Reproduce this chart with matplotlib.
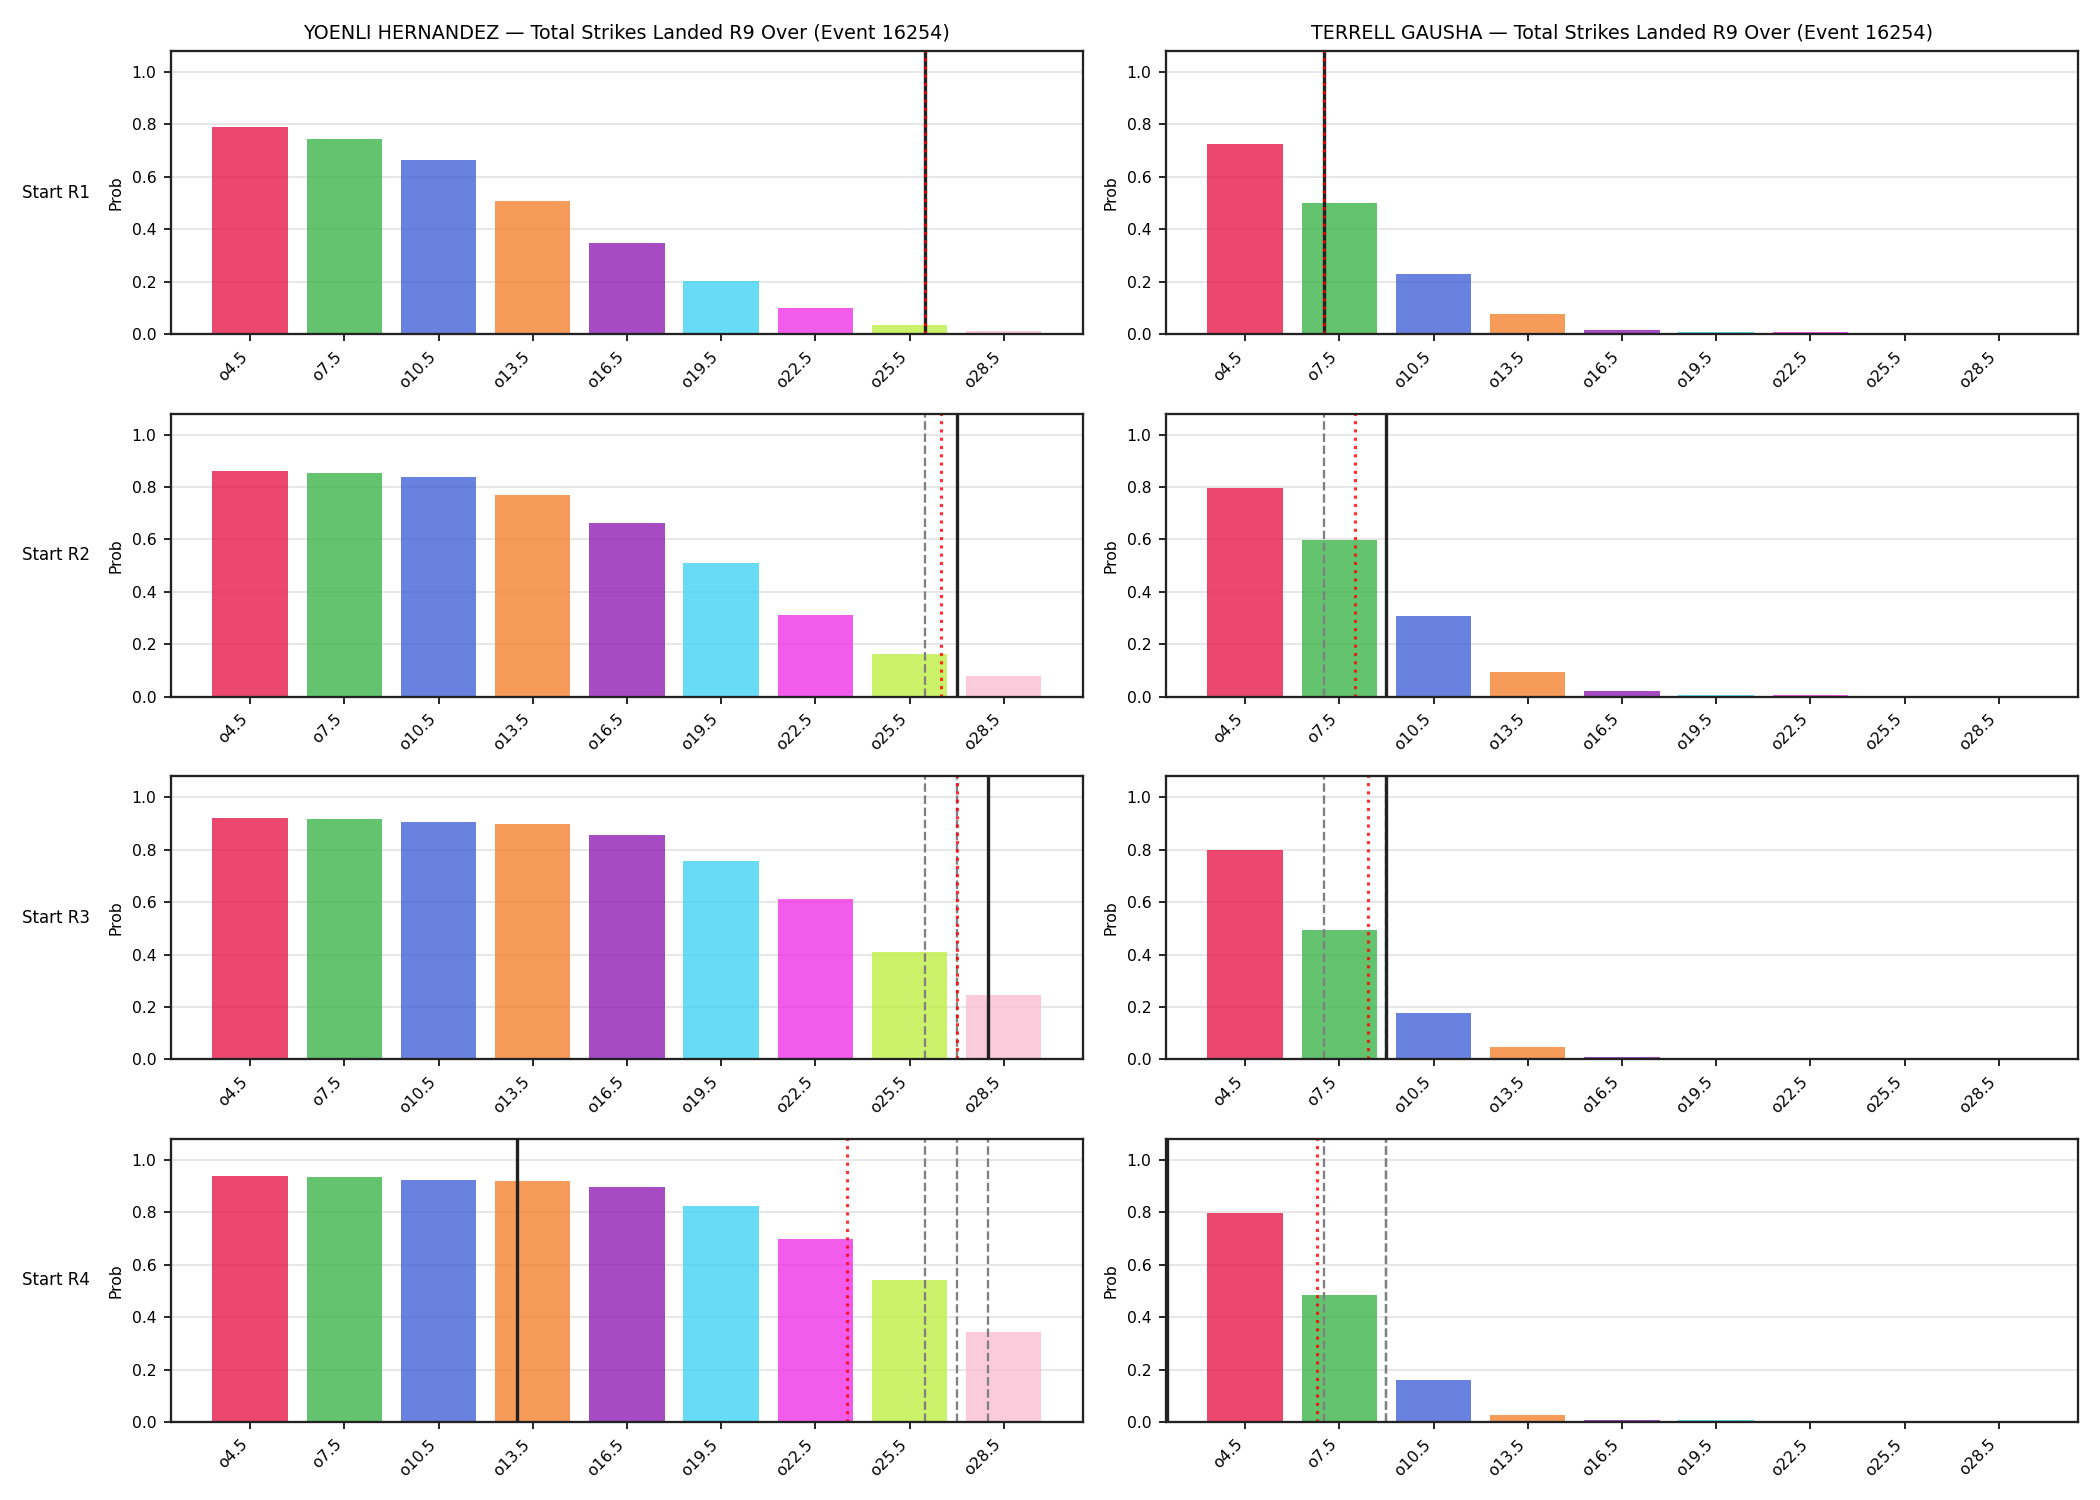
import matplotlib
matplotlib.use("Agg")
import matplotlib.pyplot as plt
import numpy as np

# lines offered, one bar per line
lines = ['o4.5', 'o7.5', 'o10.5', 'o13.5', 'o16.5', 'o19.5', 'o22.5', 'o25.5', 'o28.5']
rounds = ['Start R1', 'Start R2', 'Start R3', 'Start R4']

# P(over) by round start
yoenli_r1 = [0.792, 0.746, 0.663, 0.51, 0.347, 0.204, 0.1, 0.037, 0.014]
yoenli_r2 = [0.862, 0.852, 0.837, 0.77, 0.663, 0.51, 0.311, 0.162, 0.078]
yoenli_r3 = [0.921, 0.916, 0.907, 0.897, 0.855, 0.755, 0.611, 0.408, 0.245]
yoenli_r4 = [0.939, 0.934, 0.924, 0.918, 0.897, 0.822, 0.699, 0.542, 0.343]

terrell_r1 = [0.724, 0.50, 0.23, 0.079, 0.016, 0.008, 0.007, 0.006, 0.005]
terrell_r2 = [0.796, 0.597, 0.307, 0.096, 0.022, 0.007, 0.006, 0.005, 0.004]
terrell_r3 = [0.798, 0.493, 0.178, 0.046, 0.008, 0.006, 0.005, 0.005, 0.004]
terrell_r4 = [0.796, 0.486, 0.159, 0.027, 0.007, 0.006, 0.005, 0.004, 0.004]

# strike counts marked on each panel (solid = current, dotted = projection)
yoenli_solid = [26.0, 27.0, 28.0, 13.0]
yoenli_dotted = [26.0, 26.5, 27.0, 23.5]
terrell_solid = [7.0, 9.0, 9.0, 2.0]
terrell_dotted = [7.0, 8.0, 8.4, 6.8]

fighters = [
    ('YOENLI HERNANDEZ', [yoenli_r1, yoenli_r2, yoenli_r3, yoenli_r4], yoenli_solid, yoenli_dotted),
    ('TERRELL GAUSHA', [terrell_r1, terrell_r2, terrell_r3, terrell_r4], terrell_solid, terrell_dotted),
]

colors = ['#e6194b', '#3cb44b', '#4363d8', '#f58231', '#911eb4',
          '#42d4f4', '#f032e6', '#bfef45', '#fabed4']

plt.rcParams['axes.linewidth'] = 1.1
plt.rcParams['axes.edgecolor'] = '#222222'
plt.rcParams['xtick.labelsize'] = 7.5
plt.rcParams['ytick.labelsize'] = 7.5


def to_pos(v):
    # strike count -> position on the categorical axis
    return (v - 4.5) / 3.0


fig, axes = plt.subplots(4, 2, figsize=(14, 10), dpi=150)
fig.subplots_adjust(left=0.0814, right=0.9895, top=0.966, bottom=0.052,
                    wspace=0.091, hspace=0.28)

x = np.arange(len(lines))
for c, (name, probs, solid, dotted) in enumerate(fighters):
    for r in range(4):
        ax = axes[r, c]
        ax.bar(x, probs[r], color=colors, alpha=0.8, width=0.8, linewidth=0)
        ax.grid(axis='y', color='#e3e3e3', linewidth=0.8)
        ax.set_axisbelow(True)
        for prev in solid[:r]:
            ax.axvline(to_pos(prev), color='grey', linestyle='--', linewidth=1.1)
        ax.axvline(to_pos(solid[r]), color='#222222', linewidth=1.6)
        ax.axvline(to_pos(dotted[r]), color='red', linestyle=':', linewidth=1.5, alpha=0.8)
        ax.set_xlim(-0.84, 8.84)
        ax.set_ylim(0, 1.08)
        ax.set_xticks(x)
        ax.set_xticklabels(lines, rotation=45, ha='right')
        ax.set_ylabel('Prob', fontsize=7.5)
        if c == 0:
            ax.text(-0.089, 0.5, rounds[r], transform=ax.transAxes,
                    ha='right', va='center', fontsize=8)
        if r == 0:
            ax.set_title(f'{name} — Total Strikes Landed R9 Over (Event 16254)', fontsize=9.2)

fig.savefig('out.png', dpi=150)
